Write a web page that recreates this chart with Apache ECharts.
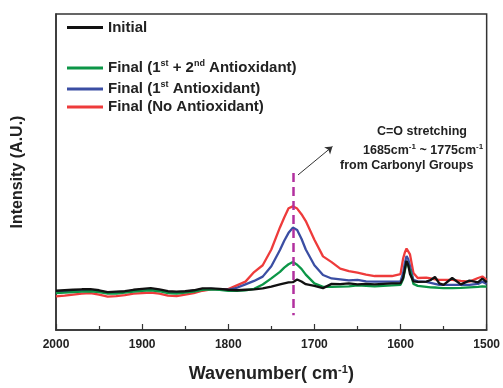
<!DOCTYPE html>
<html>
<head>
<meta charset="utf-8">
<script src="https://cdn.jsdelivr.net/npm/echarts@6/dist/echarts.min.js"></script>
<style>
  html, body { margin: 0; padding: 0; background: #fff; }
  #chart { width: 503px; height: 388px; }
</style>
</head>
<body>
<div id="chart"></div>
<script>
// wavenumber (cm-1) sample points
var wavenumbers = [2000,1990,1980,1970,1960,1950,1940,1930,1920,1910,
  1900,1890,1880,1870,1860,1850,1840,1830,1820,1810,
  1800,1790,1780,1770,1760,1750,1740,
  1735,1730,1725,1720,1715,1710,
  1700,1690,1680,1670,1660,1650,1640,1630,1620,1610,1600,
  1597,1595,1593,1591,1589,1585,1580,
  1570,1565,1560,1555,1550,
  1540,1530,1520,1510,1505,1500]

// intensities (a.u.)
var initial = [40,40.5,41,41.5,41.7,40.5,38.5,39,39.5,41,
  42,42.7,41.5,39.5,39,39.5,40.5,42.5,42.5,42,
  41,40.5,41,41.5,42.5,44.3,46.5,
  47.5,48.5,48.7,51.5,49.5,46.7,
  45,42.7,47,46.7,47.5,46.5,47,46.5,47,47.5,47.7,
  53,62,70.5,66,57,49.5,49,
  49.3,51,54,47.5,46,
  53,46.5,50.3,48.5,52.5,48.5]

var final12 = [37.7,38,38.5,39,39.5,38.5,37,37,38,39,
  40,40.5,39.5,37.5,37,38,39,41,41.5,41,
  40,40,40.5,42,46.4,52.6,59.3,
  63.5,67,69.3,66.5,62.3,56.4,
  47.5,44,44,44.3,44.5,45.5,45,44.5,45,45.5,46,
  52,60,70,68,61,47,45,
  44,43.5,43.3,43,42.7,
  42.7,43,43.5,44,44.5,44.3]

var final1 = [38.7,39,39.5,40,40.5,39.5,38,38,39,40,
  41,41.5,40.5,38.5,38,39,40,41.5,42,41.5,
  41,43,46.5,50,54.4,65,81.5,
  91,99,104.3,102,93,82,
  66,56,52.5,51.5,50.5,51,49.5,49.3,49.3,49.3,49.5,
  58,68,75.5,72,65,51,49.5,
  49,48,47,46,46,
  46,46,46,47,49.3,47]

var finalNo = [34.3,35,36,37,37.5,36,34,34.5,35.5,37,
  37.5,38,37,35,34.5,36,37.5,40,41.5,41.5,
  41.7,45.5,49.3,59,66,82,104.5,
  114.7,124,126,123.7,118,111,
  92,75,69.2,62.5,60,58.5,56.5,55,55,55,57,
  72.7,79,83,82,77,58,53,
  53.3,52.5,51.5,51,51,
  51,50,49.3,53,54.5,51]

var names = ['Initial', 'Final (1st + 2nd Antioxidant)', 'Final (1st Antioxidant)', 'Final (No Antioxidant)']
var labels = {
  'Initial': '{b|Initial}',
  'Final (1st + 2nd Antioxidant)': '{b|Final (1}{s|st}{b| + 2}{s|nd}{b| Antioxidant)}',
  'Final (1st Antioxidant)': '{b|Final (1}{s|st}{b| Antioxidant)}',
  'Final (No Antioxidant)': '{b|Final (No Antioxidant)}'
}
var colors = ['#111111', '#0c9647', '#3b4ea3', '#ee3b3b']

function pairs(vals) {
  return wavenumbers.map(function (w, i) { return [w, vals[i]] })
}

var font = 'Arial, "Liberation Sans", sans-serif'
var legendRich = {
  b: { fontSize: 15, fontWeight: 'bold', fontFamily: font, color: '#222', lineHeight: 18 },
  s: { fontSize: 9, fontWeight: 'bold', fontFamily: font, color: '#222', lineHeight: 9, verticalAlign: 'top' }
}

function legendFor(name, top) {
  return {
    data: [name],
    left: 67,
    top: top,
    padding: 0,
    icon: 'rect',
    itemWidth: 36,
    itemHeight: 3,
    selectedMode: false,
    formatter: function (n) { return labels[n] },
    textStyle: { rich: legendRich }
  }
}

var chart = echarts.init(document.getElementById('chart'))

var option = {
  animation: false,
  backgroundColor: '#fff',
  grid: {
    left: 56, right: 14, top: 14, bottom: 52,
    show: true, borderColor: '#333', borderWidth: 1.5
  },
  legend: [
    legendFor(names[0], 20),
    legendFor(names[1], 59),
    legendFor(names[2], 80),
    legendFor(names[3], 99.5)
  ],
  xAxis: {
    type: 'value',
    inverse: true,
    min: 1500,
    max: 2000,
    interval: 100,
    name: '{a|Wavenumber( cm}{s|-1}{a|)}',
    nameLocation: 'middle',
    nameGap: 34,
    nameTextStyle: {
      rich: {
        a: { fontSize: 18, fontWeight: 'bold', fontFamily: font, color: '#222', lineHeight: 20 },
        s: { fontSize: 11, fontWeight: 'bold', fontFamily: font, color: '#222', lineHeight: 10, verticalAlign: 'top' }
      }
    },
    axisLine: { lineStyle: { color: '#333', width: 1.5 } },
    axisTick: { inside: true, length: 6, lineStyle: { color: '#333', width: 1.2 } },
    minorTick: { show: true, splitNumber: 2, length: 4, lineStyle: { color: '#333', width: 1.2 } },
    axisLabel: {
      fontSize: 12, fontWeight: 'bold', fontFamily: font, color: '#222', margin: 9,
      formatter: function (v) { return String(v) }
    },
    splitLine: { show: false }
  },
  yAxis: {
    type: 'value',
    min: 0,
    max: 322,
    name: 'Intensity (A.U.)',
    nameLocation: 'middle',
    nameGap: 30,
    nameTextStyle: { fontSize: 16, fontWeight: 'bold', fontFamily: font, color: '#222' },
    axisLine: { show: true, lineStyle: { color: '#333', width: 1.5 } },
    axisTick: { show: false },
    axisLabel: { show: false },
    splitLine: { show: false }
  },
  series: [
    { name: names[3], type: 'line', data: pairs(finalNo), color: colors[3] },
    { name: names[2], type: 'line', data: pairs(final1), color: colors[2] },
    { name: names[1], type: 'line', data: pairs(final12), color: colors[1] },
    {
      name: names[0], type: 'line', data: pairs(initial), color: colors[0],
      markLine: {
        silent: true,
        symbol: ['none', 'none'],
        label: { show: false },
        data: [
          [
            { coord: [1725, 160], lineStyle: { color: '#b2309f', width: 2.5, type: [9, 5] } },
            { coord: [1725, 15] }
          ],
          [
            { coord: [1719, 158], lineStyle: { color: '#333', width: 1, type: 'solid' } },
            { coord: [1679, 187], symbol: 'arrow', symbolSize: 7 }
          ]
        ]
      }
    }
  ].map(function (s) {
    s.showSymbol = false
    s.symbol = 'none'
    s.lineStyle = { width: 2.3 }
    return s
  }),
  graphic: [
    {
      type: 'text', left: 377, top: 125,
      style: { text: 'C=O stretching', font: 'bold 12.5px ' + font, fill: '#222' }
    },
    {
      type: 'text', left: 363, top: 143,
      style: {
        text: '{a|1685cm}{s|-1}{a| ~ 1775cm}{s|-1}',
        rich: {
          a: { fontSize: 12.5, fontWeight: 'bold', fontFamily: font, fill: '#222', lineHeight: 16 },
          s: { fontSize: 8, fontWeight: 'bold', fontFamily: font, fill: '#222', lineHeight: 8, verticalAlign: 'top' }
        }
      }
    },
    {
      type: 'text', left: 340, top: 159,
      style: { text: 'from Carbonyl Groups', font: 'bold 12.5px ' + font, fill: '#222' }
    }
  ]
}

chart.setOption(option)
</script>
</body>
</html>
